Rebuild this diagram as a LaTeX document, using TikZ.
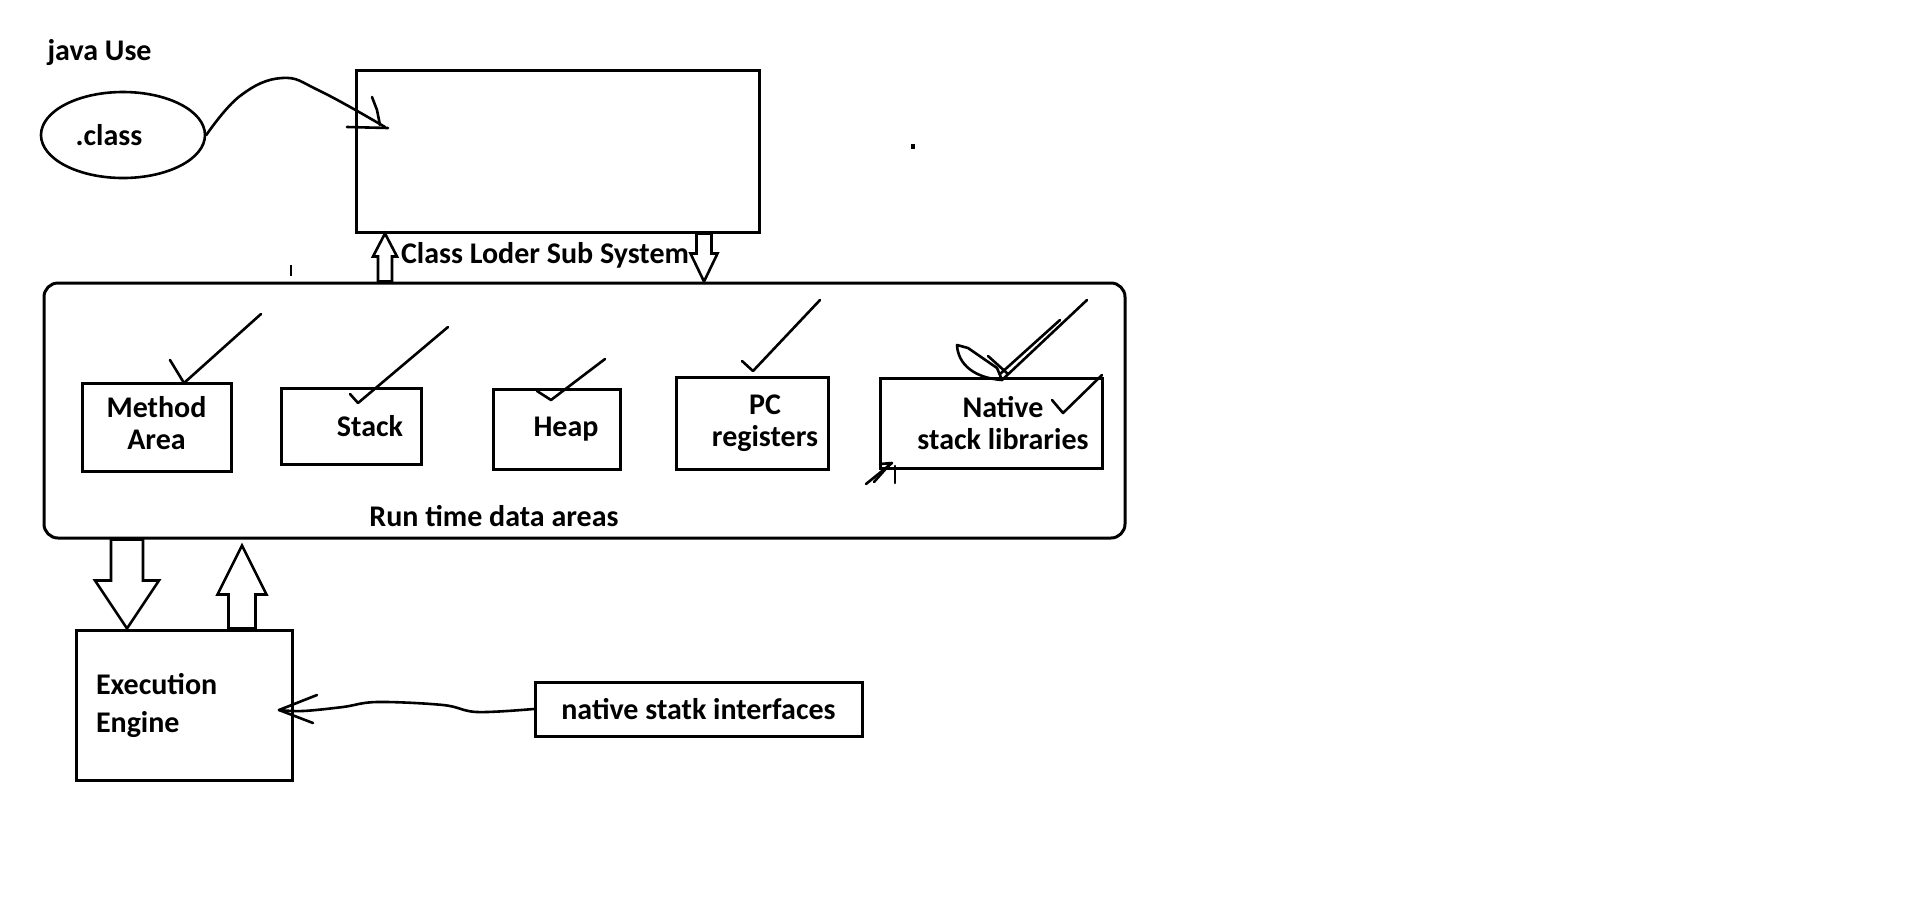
\documentclass[tikz,border=0pt]{standalone}
\usepackage{fontspec}
\setmainfont{Carlito}
\usetikzlibrary{calc}
\usetikzlibrary{shapes.geometric}
\tikzset{box/.style = {draw, line width=3pt, inner sep=0pt,
                       font=\bfseries\fontsize{30}{32}\selectfont},
         boxtext/.style = {font=\bfseries\fontsize{30}{32}\selectfont, align=center, inner sep=0pt},
         caption/.style = {font=\bfseries\fontsize{30}{32}\selectfont, anchor=base},
         pen/.style = {line width=2.6pt, line cap=round, line join=round},
         fat/.style = {line width=2.6pt, line join=miter}}
\newcommand{\hollowarrow}[5]{%
  \draw [fat] ($(#1)!#3!90:(#2)$) -- ($(#2)!#5!(#1)!#3!-90:(#1)$)
    -- ($(#2)!#5!(#1)!#4!-90:(#1)$) -- (#2) -- ($(#2)!#5!(#1)!#4!90:(#1)$)
    -- ($(#2)!#5!(#1)!#3!90:(#1)$) -- ($(#1)!#3!-90:(#2)$) -- cycle;}

\begin{document}
\begin{tikzpicture}[x=1pt, y=-1pt]
  \fill [white] (0, 0) rectangle (1914, 903);
  \useasboundingbox (0, 0) rectangle (1914, 903);

  \node [caption, anchor=base west] (javause) at (44, 60) {java Use};
  \node [box, ellipse, line width=2.6pt, minimum width=164pt, minimum height=86pt] (class) at (123, 135) {.class\kern28pt};
  \node [box, minimum width=403pt, minimum height=162pt] (loader) at (557.5, 151) {};
  \node [caption] (loadername) at (545, 263) {Class Loder Sub System};
  \node [box, rounded corners=14pt, minimum width=1081pt, minimum height=255pt] (runtime) at (584.5, 410.5) {};
  \node [caption] (runname) at (494, 526) {Run time data areas};
  \node [box, minimum width=149pt, minimum height=88pt,
         label={[boxtext, yshift=4pt]center:Method\\Area}] (method) at (156.5, 427) {};
  \node [box, minimum width=140pt, minimum height=76pt] (stack) at (351, 426) {\hspace{38pt}Stack};
  \node [box, minimum width=127pt, minimum height=80pt] (heap) at (556.5, 429) {\hspace{19pt}Heap};
  \node [box, minimum width=152pt, minimum height=92pt,
         label={[boxtext, xshift=13pt]center:PC\\registers}] (pc) at (752, 423) {};
  \node [box, minimum width=222pt, minimum height=90pt,
         label={[boxtext, xshift=12pt]center:Native\\stack libraries}] (native) at (991, 423) {};
  \node [box, align=left, text width=176pt, minimum width=216pt, minimum height=150pt,
         font=\bfseries\fontsize{30}{38}\selectfont] (exec) at (184, 705) {Execution\\Engine};
  \node [box, minimum width=327pt, minimum height=54pt] (nsi) at (698.5, 709) {native statk interfaces};

  \coordinate (upa) at (runtime.north -| 385, 0);
  \coordinate (upb) at (loader.south -| 385, 0);
  \coordinate (dna) at (loader.south -| 704, 0);
  \coordinate (dnb) at (runtime.north -| 704, 0);
  \coordinate (exa) at (runtime.south -| 127, 0);
  \coordinate (exb) at (exec.north -| 127, 0);
  \coordinate (rta) at (exec.north -| 242, 0);
  \coordinate (rtb) at ($(runtime.south -| 242, 0) + (0, 6)$);
  \hollowarrow{upa}{upb}{7pt}{12pt}{23pt}
  \hollowarrow{dna}{dnb}{7.5pt}{13.5pt}{28pt}
  \hollowarrow{exa}{exb}{16pt}{32pt}{48pt}
  \hollowarrow{rta}{rtb}{13.5pt}{24.5pt}{49pt}

  \coordinate (clin) at (385, 127);
  \draw [pen] plot [smooth, tension=0.7] coordinates {(class.east) (240, 96) (282, 78) (320, 91) (clin)};
  \draw [pen] (372, 97) -- (377, 110) -- (380, 125);
  \draw [pen] (347, 127) -- (388, 128);

  \coordinate (eein) at (279, 710);
  \draw [pen] plot [smooth, tension=0.6] coordinates {(nsi.west) (477, 712) (443, 705) (377, 702) (343, 707) (303, 711) (eein)};
  \draw [pen] (317, 695) -- (eein) -- (313, 723);

  \draw [pen] (170, 360) -- (184, 383) -- (261, 314);
  \draw [pen] (350, 394) -- (358, 403) -- (448, 327);
  \draw [pen] (537, 391) -- (551, 400) -- (605, 359);
  \draw [pen] (742, 361) -- (753, 371) -- (820, 300);
  \draw [pen] (1087, 300) -- (1002, 380) .. controls (975, 378) and (958, 365) .. (957, 345) -- (968, 348) -- (997, 368) -- (1002, 380);
  \draw [pen] (1000, 374) -- (1060, 320);
  \draw [pen] (988, 356) -- (1008, 374);
  \draw [pen] (1052, 400) -- (1063, 413) -- (1102, 375);
  \draw [pen] (866, 484) -- (892, 463) -- (880, 464);
  \draw [pen] (874, 482) -- (890, 464);
  \draw [pen] (895, 466) -- (895, 483);

  \fill (911, 144) rectangle (915, 149);
  \draw [line width=2pt] (291, 265) -- (291, 276);
\end{tikzpicture}
\end{document}
